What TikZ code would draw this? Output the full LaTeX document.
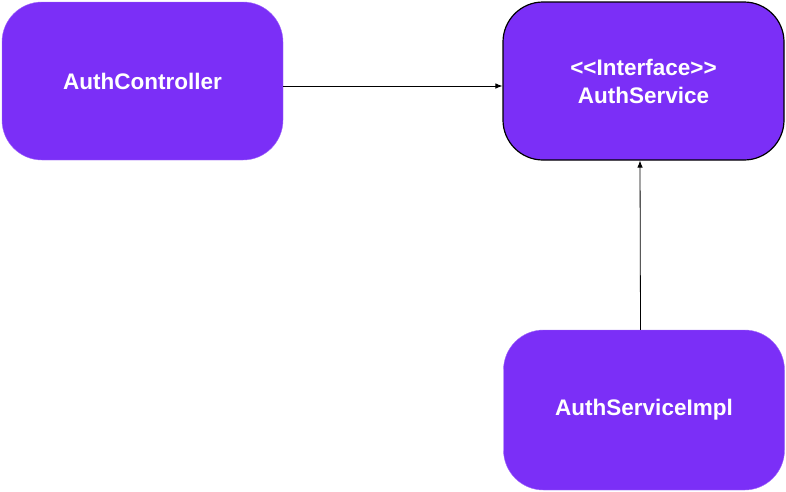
\documentclass[tikz,border=0pt]{standalone}
\usepackage{fontspec}
\setmainfont{Liberation Sans}
\usetikzlibrary{arrows.meta}
\definecolor{classpurple}{HTML}{7B2FF7}

\begin{document}
\begin{tikzpicture}[
        x=1pt, y=-1pt,
        classbox/.style={rectangle, rounded corners=40pt, fill=classpurple, draw=classpurple!70, minimum width=281pt, minimum height=158pt, align=center, text=white, font=\fontsize{22.5}{28}\selectfont\bfseries},
        arrow/.style={-{Latex[length=7pt,width=5.5pt]}, line width=0.8pt}
    ]
    \useasboundingbox (0,0) rectangle (786,491);

    % Classes
    \node[classbox] (controller) at (142.5, 81) {AuthController};
    \node[classbox, draw=black, line width=1.2pt] (service) at (643.5, 81) {<\kern0pt<Interface>\kern0pt>\\AuthService};
    \node[classbox, minimum height=160pt] (serviceimpl) at (644, 410) {AuthServiceImpl};

    % Arrows
    \draw[arrow] ([yshift=-5pt]controller.east) -- ([yshift=-5pt]service.west);
    \draw[arrow] ([xshift=-3.5pt]serviceimpl.north) -- ([xshift=-3.5pt]service.south);

    \end{tikzpicture}
\end{document}
